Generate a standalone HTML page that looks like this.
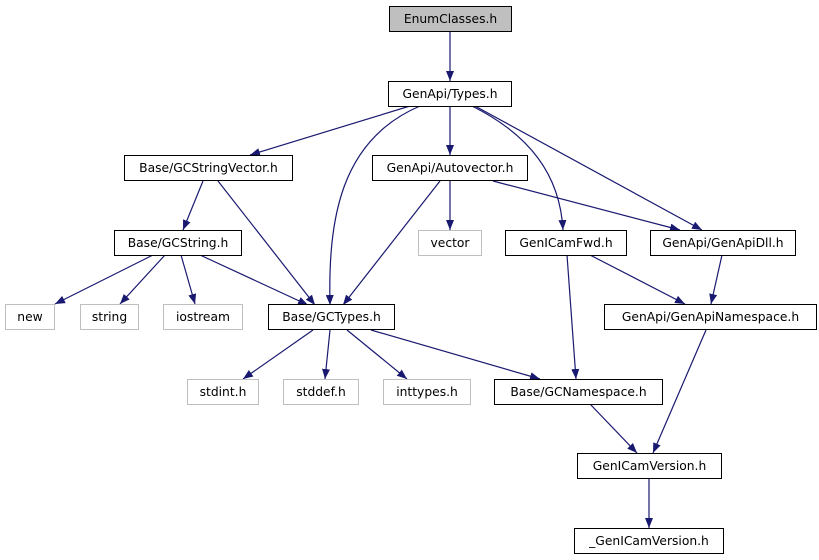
<!DOCTYPE html>
<html><head><meta charset="utf-8"><style>
html,body{margin:0;padding:0;background:#fff;}
svg{display:block;}
text{font-family:"DejaVu Sans","Liberation Sans",sans-serif;font-size:12.3px;fill:#000;}
</style></head><body>
<svg width="819" height="560" viewBox="0 0 819 560" xmlns="http://www.w3.org/2000/svg">
<defs>
<marker id="a" viewBox="0 0 10 8" refX="10" refY="4" markerWidth="10" markerHeight="8" markerUnits="userSpaceOnUse" orient="auto">
<path d="M0,0 L10,4 L0,8 z" fill="#191970"/>
</marker>
</defs>
<g fill="none" stroke="#191970" stroke-width="1.2" marker-end="url(#a)">
<path d="M450,31 L450,81"/>
<path d="M410,106 L250,155"/>
<path d="M420,106 C340,140 328,220 330,305"/>
<path d="M450,106 L450,155"/>
<path d="M472,106 C530,135 560,175 563,230"/>
<path d="M475,106 L702,230"/>
<path d="M203,181 L183,230"/>
<path d="M218,181 L315,305"/>
<path d="M440,181 L343,305"/>
<path d="M450,181 L450,230"/>
<path d="M493,181 L680,230"/>
<path d="M153,255 L55,304"/>
<path d="M165,255 L120,304"/>
<path d="M181,255 L195,304"/>
<path d="M200,255 L308,305"/>
<path d="M567,255 L576,379"/>
<path d="M590,255 L685,304"/>
<path d="M722,255 L711,304"/>
<path d="M313,330 L243,379"/>
<path d="M330,330 L325,379"/>
<path d="M347,330 L407,379"/>
<path d="M371,330 L540,379"/>
<path d="M590,404 L637,453"/>
<path d="M706,330 L653,453"/>
<path d="M649,479 L649,528"/>
</g>
<g stroke-width="1">
<rect x="389.5" y="6.5" width="122" height="25" fill="#bfbfbf" stroke="#000"/>
<rect x="388.5" y="81.5" width="123" height="25" fill="#fff" stroke="#000"/>
<rect x="124.5" y="155.5" width="168" height="25" fill="#fff" stroke="#000"/>
<rect x="372.5" y="155.5" width="155" height="25" fill="#fff" stroke="#000"/>
<rect x="114.5" y="230.5" width="127" height="25" fill="#fff" stroke="#000"/>
<rect x="418.5" y="230.5" width="63" height="25" fill="#fff" stroke="#bfbfbf"/>
<rect x="505.5" y="230.5" width="121" height="25" fill="#fff" stroke="#000"/>
<rect x="650.5" y="230.5" width="145" height="25" fill="#fff" stroke="#000"/>
<rect x="5.5" y="304.5" width="49" height="25" fill="#fff" stroke="#bfbfbf"/>
<rect x="80.5" y="304.5" width="58" height="25" fill="#fff" stroke="#bfbfbf"/>
<rect x="163.5" y="304.5" width="79" height="25" fill="#fff" stroke="#bfbfbf"/>
<rect x="268.5" y="304.5" width="126" height="25" fill="#fff" stroke="#000"/>
<rect x="604.5" y="304.5" width="212" height="25" fill="#fff" stroke="#000"/>
<rect x="187.5" y="379.5" width="71" height="25" fill="#fff" stroke="#bfbfbf"/>
<rect x="283.5" y="379.5" width="75" height="25" fill="#fff" stroke="#bfbfbf"/>
<rect x="383.5" y="379.5" width="87" height="25" fill="#fff" stroke="#bfbfbf"/>
<rect x="494.5" y="379.5" width="168" height="25" fill="#fff" stroke="#000"/>
<rect x="577.5" y="453.5" width="144" height="25" fill="#fff" stroke="#000"/>
<rect x="574.5" y="528.5" width="149" height="25" fill="#fff" stroke="#000"/>
</g>
<g text-anchor="middle">
<text x="450.5" y="23">EnumClasses.h</text>
<text x="450" y="98">GenApi/Types.h</text>
<text x="208.5" y="172">Base/GCStringVector.h</text>
<text x="450" y="172">GenApi/Autovector.h</text>
<text x="178" y="247">Base/GCString.h</text>
<text x="450" y="247">vector</text>
<text x="566" y="247">GenICamFwd.h</text>
<text x="723" y="247">GenApi/GenApiDll.h</text>
<text x="30" y="321">new</text>
<text x="109.5" y="321">string</text>
<text x="203" y="321">iostream</text>
<text x="331.5" y="321">Base/GCTypes.h</text>
<text x="710.5" y="321">GenApi/GenApiNamespace.h</text>
<text x="223" y="396">stdint.h</text>
<text x="321" y="396">stddef.h</text>
<text x="427" y="396">inttypes.h</text>
<text x="578.5" y="396">Base/GCNamespace.h</text>
<text x="649.5" y="470">GenICamVersion.h</text>
<text x="649" y="545">_GenICamVersion.h</text>
</g>
</svg>
</body></html>
